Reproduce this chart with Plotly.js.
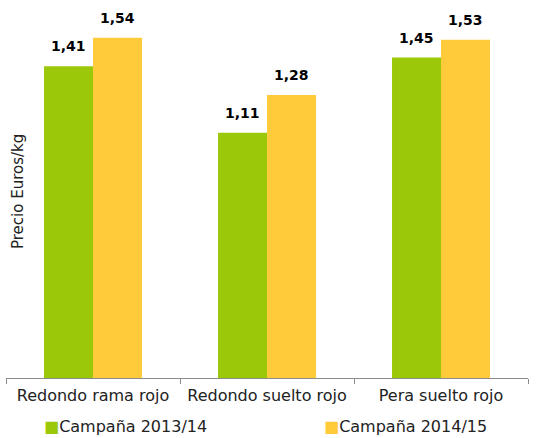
<!DOCTYPE html>
<html>
<head>
<meta charset="utf-8">
<script src="https://cdn.plot.ly/plotly-3.0.1.min.js"></script>
<style>html,body{margin:0;padding:0;background:#fff;}</style>
</head>
<body>
<div id="chart" style="width:546px;height:438px;"></div>
<script>
const categories = ["Redondo rama rojo", "Redondo suelto rojo", "Pera suelto rojo"];
const seriesNames = ["Campaña 2013/14", "Campaña 2014/15"];
const values2013 = [1.41, 1.11, 1.45];
const values2014 = [1.54, 1.28, 1.53];
const yTitle = "Precio Euros/kg";

const colors = ["#9BC90A", "#FFCB3A"];
const FONT = "DejaVu Sans, sans-serif";
const allSeries = [values2013, values2014];

const traces = allSeries.map((vals, i) => ({
  type: "bar",
  x: categories,
  y: vals,
  name: seriesNames[i],
  marker: {color: colors[i]},
  showlegend: false,
  hoverinfo: "x+y"
}));

const fmt = v => v.toFixed(2).replace(".", ",");
const annotations = [];
allSeries.forEach((vals, i) => {
  vals.forEach((v, j) => {
    annotations.push({
      x: categories[j], y: v, xref: "x", yref: "y",
      text: "<b>" + fmt(v) + "</b>",
      showarrow: false, xshift: i === 0 ? -24.5 : 24.5, yshift: 20,
      yanchor: "middle", xanchor: "center",
      font: {family: FONT, size: 14, color: "#000"}
    });
  });
});
annotations.push({
  xref: "paper", yref: "paper", x: (18 - 6) / 522, y: (378 - 192) / 368,
  text: yTitle, textangle: -90, showarrow: false,
  xanchor: "center", yanchor: "middle",
  font: {family: FONT, size: 15, color: "#222"}
});
const legendX = [42, 322];
seriesNames.forEach((n, i) => {
  annotations.push({
    xref: "paper", yref: "paper", x: (legendX[i] - 6) / 522, y: -0.133,
    xanchor: "left", yanchor: "middle", showarrow: false,
    text: "<span style='color:" + colors[i] + "'>■</span>" + n,
    font: {family: FONT, size: 16, color: "#222"}
  });
});

const layout = {
  width: 546, height: 438,
  margin: {l: 6, r: 18, t: 10, b: 60},
  paper_bgcolor: "#fff", plot_bgcolor: "#fff",
  separators: ",.",
  barmode: "group", bargap: 0.437, bargroupgap: 0,
  showlegend: false,
  xaxis: {
    showline: true, linecolor: "#8c8c8c", linewidth: 1,
    ticks: "outside", tickson: "boundaries", ticklen: 5, tickcolor: "#8c8c8c",
    ticklabelstandoff: 3,
    tickfont: {family: FONT, size: 16, color: "#222"},
    showgrid: false, zeroline: false
  },
  yaxis: {
    range: [0, 1.665], showticklabels: false, showgrid: false,
    zeroline: false, showline: false, ticks: ""
  },
  annotations: annotations
};

Plotly.newPlot("chart", traces, layout, {displayModeBar: false, staticPlot: true});
</script>
</body>
</html>
